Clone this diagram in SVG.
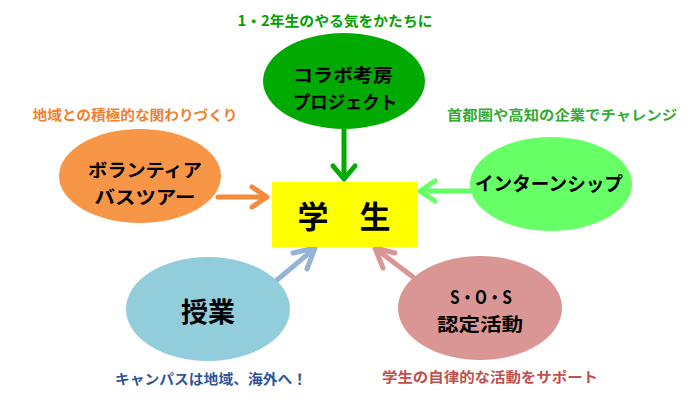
<svg xmlns="http://www.w3.org/2000/svg" width="690" height="410" viewBox="0 0 690 410">
<style>
text{font-family:"Noto Sans CJK JP","Noto Sans",sans-serif;font-weight:bold;text-anchor:middle;dominant-baseline:central}
.node{font-size:18px;fill:#000}
.lbl{font-size:14px}
.arr{fill:none;stroke-width:5;stroke-linecap:round;stroke-linejoin:round}
</style>
<rect width="690" height="410" fill="#fff"/>
<g id="connectors">
  <g class="arr" stroke="#00aa00"><path d="M344,128 L344,178"/><path d="M333,166 L344,179 L355,166"/></g>
  <g class="arr" stroke="#f58a3c"><path d="M218,197 L266,197"/><path d="M252,187 L267,197 L252,207"/></g>
  <g class="arr" stroke="#66ff66"><path d="M470,191 L422,191"/><path d="M435,181 L420,191 L435,201"/></g>
  <g class="arr" stroke="#95b3d7"><path d="M277,280 L314,249"/><path d="M293,253 L315,248 L307,269"/></g>
  <g class="arr" stroke="#d99694"><path d="M413,277 L376,249"/><path d="M395,253 L375,248 L383,268"/></g>
</g>
<g id="student">
  <rect x="272" y="182" width="145" height="65" fill="#ffff00"/>
  <text x="344" y="214" style="font-size:31px">学　生</text>
</g>
<g id="collab">
  <ellipse cx="344" cy="81" rx="81" ry="48" fill="#00aa00"/>
  <text class="node" x="343" y="74" textLength="100" lengthAdjust="spacingAndGlyphs">コラボ考房</text>
  <text class="node" x="345" y="101" textLength="104" lengthAdjust="spacingAndGlyphs">プロジェクト</text>
  <text class="lbl" x="335" y="20" fill="#00a000" textLength="195" lengthAdjust="spacingAndGlyphs">1・2年生のやる気をかたちに</text>
</g>
<g id="volunteer">
  <ellipse cx="140" cy="176" rx="81" ry="47" fill="#f79646"/>
  <text class="node" x="145" y="169" textLength="114" lengthAdjust="spacingAndGlyphs">ボランティア</text>
  <text class="node" x="145" y="196" textLength="101" lengthAdjust="spacingAndGlyphs">バスツアー</text>
  <text class="lbl" x="135" y="114" fill="#f07f30" textLength="205" lengthAdjust="spacingAndGlyphs">地域との積極的な関わりづくり</text>
</g>
<g id="intern">
  <ellipse cx="551" cy="184" rx="81" ry="47" fill="#66ff66"/>
  <text class="node" x="549" y="182" style="font-size:19px" textLength="148" lengthAdjust="spacingAndGlyphs">インターンシップ</text>
  <text class="lbl" x="562" y="114" fill="#33aa33" textLength="230" lengthAdjust="spacingAndGlyphs">首都圏や高知の企業でチャレンジ</text>
</g>
<g id="class">
  <ellipse cx="208" cy="309" rx="82" ry="52" fill="#92cddc"/>
  <text class="node" x="208" y="310" style="font-size:27px">授業</text>
  <text class="lbl" x="211" y="378" fill="#2f5597" textLength="192" lengthAdjust="spacingAndGlyphs">キャンパスは地域、海外へ！</text>
</g>
<g id="sos">
  <ellipse cx="480" cy="308" rx="82" ry="52" fill="#d99694"/>
  <text class="node" x="481" y="296" textLength="62" lengthAdjust="spacingAndGlyphs">S・O・S</text>
  <text class="node" x="480" y="323" textLength="86" lengthAdjust="spacingAndGlyphs">認定活動</text>
  <text class="lbl" x="490" y="376" fill="#c0504d" textLength="216" lengthAdjust="spacingAndGlyphs">学生の自律的な活動をサポート</text>
</g>
</svg>
